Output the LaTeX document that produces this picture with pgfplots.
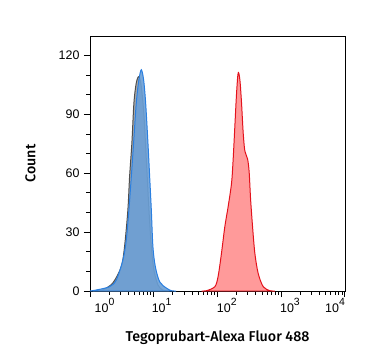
\documentclass[border=0pt]{standalone}
\usepackage{fontspec}
\setmainfont{Liberation Sans}
\newfontfamily\medfont{Fira Sans}[UprightFont=* Medium]
\usepackage{pgfplots}
\pgfplotsset{compat=1.18}
\definecolor{bluefill}{HTML}{6A9FD6}
\definecolor{blueline}{HTML}{2A7FE0}
\definecolor{grayfill}{HTML}{A8A8A8}
\definecolor{grayline}{HTML}{4E4E4E}
\definecolor{redfill}{HTML}{FF9A9A}
\definecolor{redline}{HTML}{E3121C}
\newcommand{\dec}[1]{10\raisebox{0.55em}{\fontsize{10.5}{11}\selectfont #1}}
\begin{document}
\begin{tikzpicture}
\useasboundingbox (-90bp,-73bp) rectangle (277bp,291bp);
\begin{axis}[
  at={(0,0)}, anchor=south west,
  scale only axis, width=255bp, height=255bp,
  xmin=0, xmax=4, ymin=0, ymax=130,
  axis line style={line width=0.9pt},
  xtick={0,1,2,3,4}, xticklabels={},
  minor xtick={0.301,0.477,0.602,0.699,0.778,0.845,0.903,0.954,
               1.301,1.477,1.602,1.699,1.778,1.845,1.903,1.954,
               2.301,2.477,2.602,2.699,2.778,2.845,2.903,2.954,
               3.301,3.477,3.602,3.699,3.778,3.845,3.903,3.954},
  extra x ticks={0.228,1.124,2.146,3.137,3.844},
  extra x tick labels={\dec{0},\dec{1},\dec{2},\dec{3},\dec{4}},
  extra x tick style={major tick length=0pt, xticklabel style={yshift=-4bp}},
  ytick={0,30,60,90,120},
  minor ytick={10,20,40,50,70,80,100,110},
  xtick pos=bottom, ytick pos=left,
  tick align=outside,
  major tick length=6bp, minor tick length=3.5bp,
  every tick/.style={line width=1pt, black},
  tick label style={font=\fontsize{12.5}{14}\selectfont},
  /pgf/number format/assume math mode=true,
  yticklabel style={xshift=-1bp},
  xlabel={Tegoprubart-Alexa Fluor 488},
  xlabel style={at={(axis description cs:0.5,0)}, anchor=center, yshift=-47bp, font=\fontsize{14.3}{16}\selectfont\medfont},
  ylabel={Count},
  ylabel style={at={(axis description cs:0,0.5)}, anchor=center, yshift=59.5bp, font=\fontsize{14.3}{16}\selectfont\medfont},
  clip=true,
]
% isotype / unstained (gray)
\addplot[smooth, tension=0.5, fill=grayfill, draw=grayline, line width=1pt] coordinates {
 (0.05,0) (0.197,0.5) (0.358,4.1) (0.491,12.4) (0.542,22.6) (0.594,41.3) (0.621,58.3)
 (0.657,75.5) (0.689,95.9) (0.726,106.1) (0.767,109.3) (0.805,104.2) (0.846,89.8)
 (0.884,66.8) (0.925,41.3) (0.962,22.6) (1.003,10.7) (1.066,3.1) (1.140,0.5) (1.25,0)
} \closedcycle;
% blue
\addplot[smooth, tension=0.5, fill=bluefill, fill opacity=0.9, draw=blueline, line width=1pt] coordinates {
 (0.0,0) (0.097,0.5) (0.307,2.2) (0.412,5.6) (0.516,15.8) (0.569,26.0) (0.610,41.3)
 (0.648,58.3) (0.684,75.5) (0.726,95.9) (0.767,107.7) (0.805,112.8) (0.841,107.7)
 (0.873,95.9) (0.909,75.5) (0.936,58.3) (0.962,41.3) (0.987,22.6) (1.025,12.4)
 (1.093,4.7) (1.198,1.5) (1.277,0.15) (1.35,0)
} \closedcycle;
% red
\addplot[smooth, tension=0.5, fill=redfill, draw=redline, line width=1pt] coordinates {
 (1.75,0) (1.827,0.15) (1.958,2.2) (2.009,7.3) (2.063,19.4) (2.115,32.8) (2.167,43.0)
 (2.220,54.9) (2.245,66.8) (2.272,83.8) (2.299,100.8) (2.324,111.2) (2.351,107.7)
 (2.377,95.9) (2.403,80.6) (2.429,71.4) (2.472,67.3) (2.497,60.5) (2.519,46.9)
 (2.550,32.8) (2.586,19.2) (2.638,9.0) (2.717,2.2) (2.822,0.15) (2.9,0)
} \closedcycle;
\end{axis}
\end{tikzpicture}
\end{document}
